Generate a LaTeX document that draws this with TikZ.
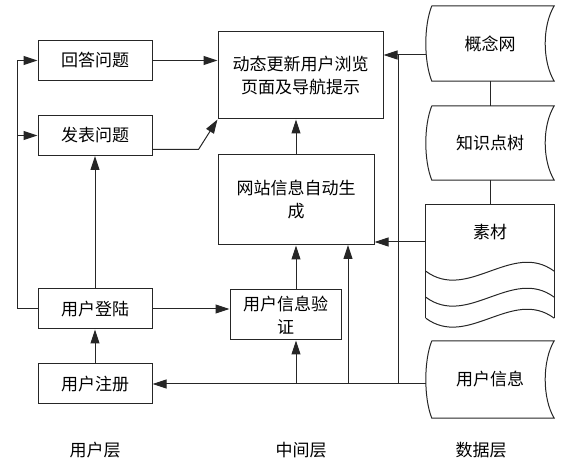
\documentclass[tikz,border=0pt]{standalone}
\usepackage{fontspec}
\newfontfamily\cjk{Noto Sans CJK SC}
\usetikzlibrary{arrows.meta,positioning}

\begin{document}
\begin{tikzpicture}[
			x=1pt, y=-1pt,
			font=\cjk\fontsize{17pt}{23pt}\selectfont,
			box/.style={draw=black!85, line width=1pt, minimum width=114pt, minimum height=40pt, align=center, inner sep=0pt},
			store/.style={minimum width=128pt, inner sep=0pt},
			link/.style={draw=black!85, line width=1pt},
			arr/.style={link, -{Triangle[length=14pt,width=9pt]}}
		]
		\useasboundingbox (0,0) rectangle (571,462);

		\node[box] (answer) at (95,60.5) {回答问题};
		\node[box] (post) at (95,135.5) {发表问题};
		\node[box] (login) at (95,309) {用户登陆};
		\node[box] (register) at (95,384) {用户注册};
		\node[box, minimum width=165pt, minimum height=87pt] (update) at (300.5,75.5) {动态更新用户浏览\\页面及导航提示};
		\node[box, minimum width=156pt, minimum height=90pt] (gen) at (296,200) {网站信息自动生\\成};
		\node[box, minimum width=111pt, minimum height=50pt] (verify) at (285.5,315) {用户信息验\\证};

		\node[store, minimum height=75pt] (concept) at (490,43.5) {概念网};
		\node[store, minimum height=74pt] (tree) at (490,143) {知识点树};
		\node[store, minimum height=113pt] (material) at (490,261.5) {};
		\node (materialtxt) at ([yshift=-27pt]material.north) {素材};
		\node[store, minimum height=77pt] (userinfo) at (490,379.5) {用户信息};

		\node (userlayer) at (95,450) {用户层};
		\node (midlayer) at (301,450) {中间层};
		\node (datalayer) at (481,450) {数据层};

		\foreach \n in {concept,tree,userinfo}
			\draw[link] ([xshift=6pt]\n.north west) -- (\n.north east)
				.. controls +(-12,20) and +(-12,-20) .. (\n.south east)
				-- ([xshift=6pt]\n.south west)
				.. controls +(-8,-20) and +(-8,20) .. ([xshift=6pt]\n.north west);
		\draw[link] (material.south west) -- (material.north west) -- (material.north east) -- (material.south east);
		\foreach \h in {0,21,47}
			\draw[link] ([yshift=\h pt]material.south west)
				.. controls +(42,31) and +(-42,-31) .. ([yshift=\h pt]material.south east);

		\draw[link] (concept.south) -- (tree.north);
		\draw[link] (tree.south) -- (material.north);
		\coordinate (cIn) at ([yshift=-11.5pt]concept.west);
		\draw[arr] (cIn) -- (cIn -| update.east);
		\coordinate (riser) at (398,55);
		\draw[link] (riser |- register.east) -- (riser);
		\draw[arr] (userinfo.west |- register.east) -- (register.east);
		\coordinate (tap) at (348,245);
		\draw[arr] (tap |- register.east) -- (tap);
		\draw[arr] (gen.south |- register.east) -- (gen.south |- verify.south);
		\draw[arr] (gen.south |- verify.north) -- (gen.south);
		\draw[arr] (gen.north) -- (gen.north |- update.south);
		\coordinate (mIn) at ([yshift=19.5pt]material.west);
		\draw[arr] (mIn) -- (mIn -| gen.east);
		\draw[arr] (login.east) -- (login.east -| verify.west);
		\draw[arr] (register.north) -- (login.south);
		\draw[arr] (login.north) -- (post.south);
		\coordinate (loop) at ([xshift=-20pt]login.west);
		\draw[arr] (login.west) -- (loop) |- (answer.west);
		\draw[arr] (loop |- post.west) -- (post.west);
		\draw[arr] (answer.east) -- (answer.east -| update.west);
		\draw[arr] ([yshift=-14pt]post.east) -- ++(46,0) -- (update.south west);
	\end{tikzpicture}
\end{document}
